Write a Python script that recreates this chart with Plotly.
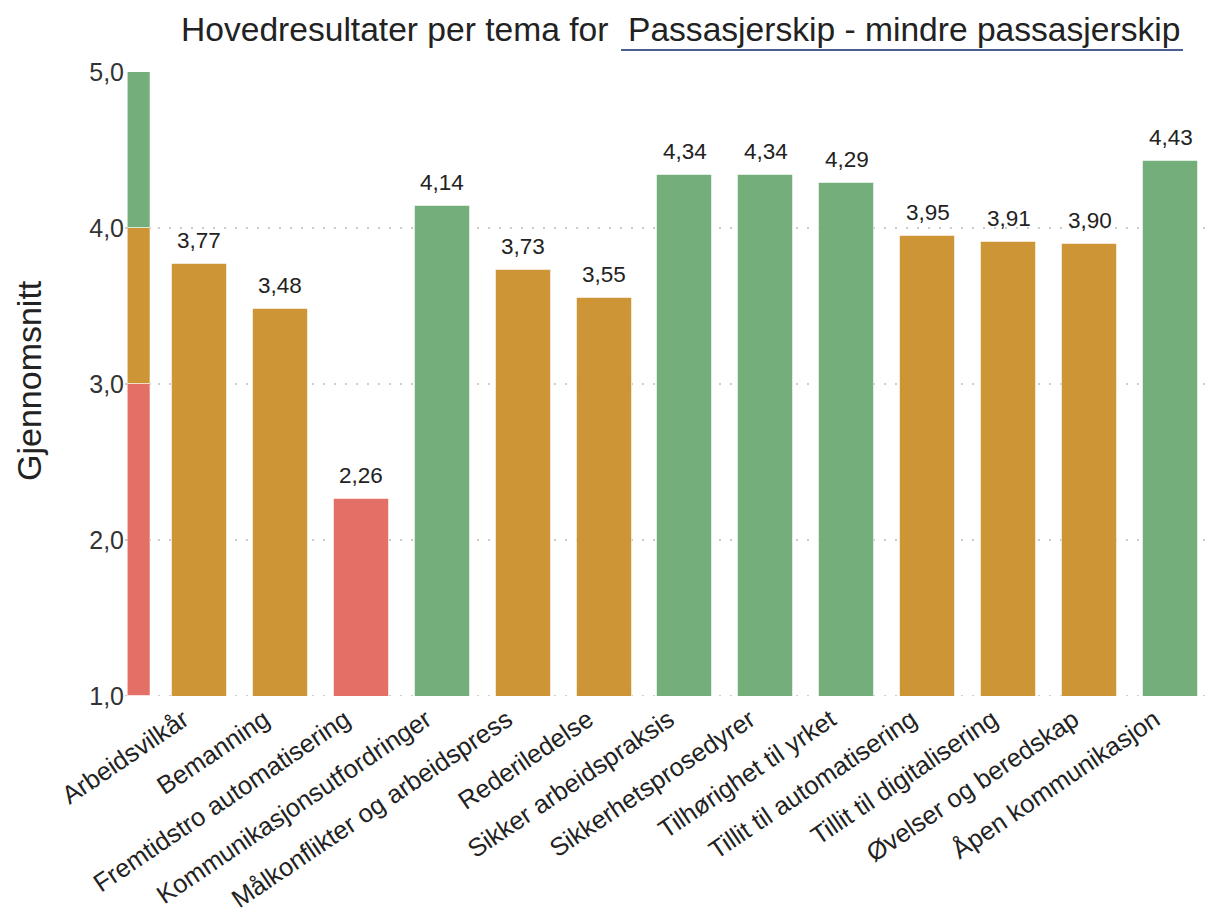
import plotly.graph_objects as go

# Themes and their average scores
categories = [
    "Arbeidsvilkår",
    "Bemanning",
    "Fremtidstro automatisering",
    "Kommunikasjonsutfordringer",
    "Målkonflikter og arbeidspress",
    "Rederiledelse",
    "Sikker arbeidspraksis",
    "Sikkerhetsprosedyrer",
    "Tilhørighet til yrket",
    "Tillit til automatisering",
    "Tillit til digitalisering",
    "Øvelser og beredskap",
    "Åpen kommunikasjon",
]
scores = [3.77, 3.48, 2.26, 4.14, 3.73, 3.55, 4.34, 4.34, 4.29, 3.95, 3.91, 3.90, 4.43]

# Colour bands of the score scale: lower bound, upper bound, colour
band_lower = [1.0, 3.0, 4.0]
band_upper = [3.0, 4.0, 5.0]
band_colors = ["#E37066", "#CD9535", "#74AF7B"]

y_ticks = [1, 2, 3, 4, 5]

FONT = "Arial, Liberation Sans, sans-serif"
TEXT = "#222222"
GRID = "#CCCCCC"
GRID_DASH = "2px,9px"


def band_color(v):
    for lo, hi, c in zip(band_lower, band_upper, band_colors):
        if lo <= v < hi:
            return c
    return band_colors[-1]


positions = list(range(1, len(categories) + 1))
bar_colors = [band_color(v) for v in scores]

fig = go.Figure()

# Score bars
fig.add_trace(go.Bar(
    x=positions,
    y=scores,
    width=0.68,
    marker=dict(color=bar_colors, line=dict(color="rgba(255,255,255,0.55)", width=1)),
    hoverinfo="skip",
    showlegend=False,
))

# Colour key strip along the y axis
for lo, hi, c in zip(band_lower, band_upper, band_colors):
    fig.add_trace(go.Bar(
        x=[0],
        y=[hi - lo],
        base=[lo],
        width=1,
        marker=dict(color=c, line=dict(color="rgba(255,255,255,0.55)", width=1)),
        xaxis="x2",
        hoverinfo="skip",
        showlegend=False,
    ))

# Value labels above bars
for p, v in zip(positions, scores):
    fig.add_annotation(
        x=p, y=v, xref="x", yref="y",
        text=f"{v:.2f}".replace(".", ","),
        showarrow=False, yanchor="bottom", yshift=9,
        font=dict(family=FONT, size=22.5, color=TEXT),
    )

# Title in two parts; the second part is underlined like a selector
fig.add_annotation(
    x=(610 - 125) / 1086, y=(696 - 29) / 624, xref="paper", yref="paper",
    text="Hovedresultater per tema for", showarrow=False,
    xanchor="right", yanchor="middle",
    font=dict(family=FONT, size=33.6, color=TEXT),
)
fig.add_annotation(
    x=(626 - 125) / 1086, y=(696 - 29) / 624, xref="paper", yref="paper",
    text="Passasjerskip - mindre passasjerskip", showarrow=False,
    xanchor="left", yanchor="middle",
    font=dict(family=FONT, size=33.6, color=TEXT),
)
fig.add_shape(
    type="line", xref="paper", yref="paper",
    x0=(621 - 125) / 1086, x1=(1183 - 125) / 1086,
    y0=(696 - 50) / 624, y1=(696 - 50) / 624,
    line=dict(color="#4B5E8E", width=2),
)

# Dotted baseline at the bottom of the scale
fig.add_shape(
    type="line", xref="paper", yref="y",
    x0=0, x1=1, y0=y_ticks[0], y1=y_ticks[0],
    line=dict(color=GRID, width=2, dash=GRID_DASH),
    layer="below",
)

# Y axis title
fig.add_annotation(
    x=(29 - 125) / 1086, y=(696 - 381) / 624, xref="paper", yref="paper",
    text="Gjennomsnitt", textangle=-90, showarrow=False,
    xanchor="center", yanchor="middle",
    font=dict(family=FONT, size=34, color=TEXT),
)

fig.update_layout(
    width=1211, height=913,
    margin=dict(l=125, r=0, t=72, b=217),
    plot_bgcolor="white", paper_bgcolor="white",
    separators=", ",
    barmode="overlay",
    bargap=0,
    font=dict(family=FONT, color=TEXT),
    xaxis=dict(
        domain=[0, 1],
        range=[0.081, 13.5],
        tickmode="array", tickvals=positions, ticktext=categories,
        tickangle=-34,
        ticklabelshift=-16,
        ticklabelstandoff=3,
        tickfont=dict(family=FONT, size=25.5, color=TEXT),
        showgrid=False, zeroline=False, showline=False, ticks="",
        automargin=False,
    ),
    xaxis2=dict(
        domain=[0.0023, 0.0235], anchor="y",
        range=[-0.5, 0.5], visible=False, fixedrange=True,
    ),
    yaxis=dict(
        range=[1, 5],
        tickmode="array", tickvals=y_ticks, tickformat=".1f",
        tickfont=dict(family=FONT, size=25, color="#333333"),
        showgrid=True, gridcolor=GRID, gridwidth=2, griddash=GRID_DASH,
        zeroline=False, showline=False, ticks="",
        automargin=False,
    ),
)

fig.write_html("out.html")
